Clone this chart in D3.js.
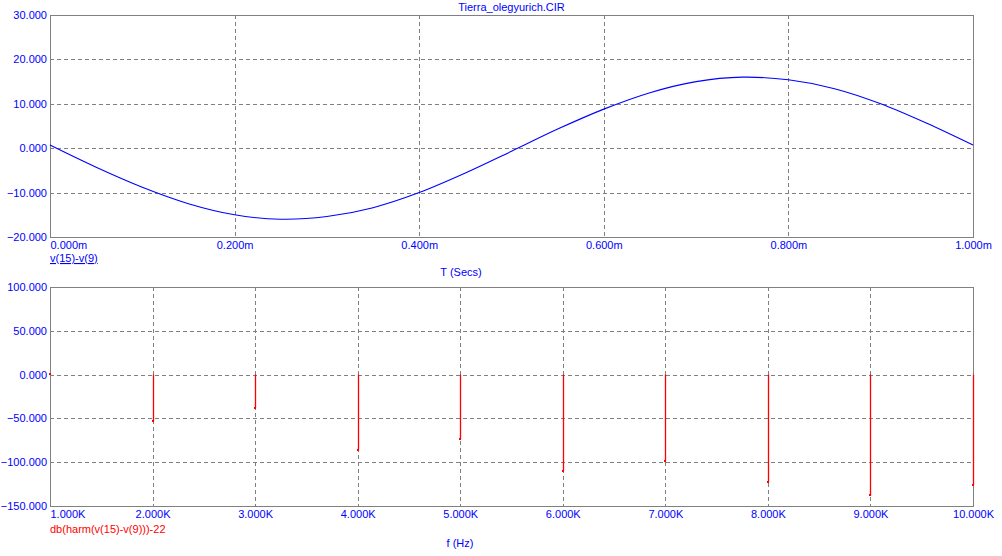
<!DOCTYPE html>
<html>
<head>
<meta charset="utf-8">
<script src="https://cdn.jsdelivr.net/npm/d3@7"></script>
<style>
html,body{margin:0;padding:0;background:#fff;}
svg{display:block;}
text{font-family:"Liberation Sans",Arial,sans-serif;font-size:11px;}
</style>
</head>
<body>
<svg id="chart" width="1002" height="556"></svg>
<script>
// ---- Data ----
const title = "Tierra_olegyurich.CIR";
const timeMs = [0,0.05,0.10,0.15,0.20,0.25,0.30,0.35,0.40,0.45,0.50,0.55,0.60,0.65,0.70,0.75,0.80,0.85,0.90,0.95,1.00];
const voltage = [0.7,-4.3,-8.8,-12.5,-15.0,-16.0,-15.4,-13.4,-10.0,-5.6,-0.7,4.3,8.8,12.5,15.0,16.0,15.4,13.4,10.0,5.6,0.7];
const freqK = [1,2,3,4,5,6,7,8,9,10];
const harmDb = [0.8,-53.5,-38,-86,-73,-110,-99,-123,-138,-126];
const topXTicks = [0,0.2,0.4,0.6,0.8,1.0];
const topYTicks = [30,20,10,0,-10,-20];
const botXTicks = [1,2,3,4,5,6,7,8,9,10];
const botYTicks = [100,50,0,-50,-100,-150];

// ---- Layout ----
const svg = d3.select("#chart");
const L = 50, R = 973;
const top1 = 15, bot1 = 237;
const top2 = 287, bot2 = 506;
const gray = "#808080", blue = "#0000FF", red = "#FF0000";

const x1 = d3.scaleLinear().domain([0,1]).range([L,R]);
const y1 = d3.scaleLinear().domain([-20,30]).range([bot1,top1]);
const x2 = d3.scaleLinear().domain([1,10]).range([L,R]);
const y2 = d3.scaleLinear().domain([-150,100]).range([bot2,top2]);

const f3 = d3.format(".3f");

function panel(x, y, xTicks, yTicks, xFmt, yT, yB) {
  const g = svg.append("g");
  // grid
  g.append("g").selectAll("line").data(yTicks.slice(1,-1)).join("line")
    .attr("x1",L).attr("x2",R)
    .attr("y1",d=>Math.round(y(d))+0.5).attr("y2",d=>Math.round(y(d))+0.5)
    .attr("stroke",gray).attr("stroke-dasharray","4,3").attr("shape-rendering","crispEdges");
  g.append("g").selectAll("line").data(xTicks.slice(1,-1)).join("line")
    .attr("y1",yT).attr("y2",yB)
    .attr("x1",d=>Math.round(x(d))+0.5).attr("x2",d=>Math.round(x(d))+0.5)
    .attr("stroke",gray).attr("stroke-dasharray","4,3").attr("shape-rendering","crispEdges");
  // frame
  g.append("rect").attr("x",L+0.5).attr("y",yT+0.5).attr("width",R-L).attr("height",yB-yT)
    .attr("fill","none").attr("stroke",gray).attr("shape-rendering","crispEdges");
  // y axis labels
  const ya = g.append("g").attr("transform",`translate(${L},0)`)
    .call(d3.axisLeft(y).tickValues(yTicks).tickSize(0).tickPadding(3).tickFormat(f3));
  ya.select(".domain").remove();
  ya.selectAll("text").attr("fill",blue).style("font-size","11px").attr("font-family","Liberation Sans, Arial, sans-serif");
  // x axis labels
  const xa = g.append("g").attr("transform",`translate(0,${yB})`)
    .call(d3.axisBottom(x).tickValues(xTicks).tickSize(0).tickPadding(4).tickFormat(xFmt));
  xa.select(".domain").remove();
  xa.selectAll("text").attr("fill",blue).style("font-size","11px").attr("font-family","Liberation Sans, Arial, sans-serif")
    .attr("text-anchor",(d,i)=> i===0 ? "start" : "middle");
  return g;
}

panel(x1, y1, topXTicks, topYTicks, d=>f3(d)+"m", top1, bot1);
panel(x2, y2, botXTicks, botYTicks, d=>f3(d)+"K", top2, bot2);

// title
svg.append("text").attr("x",(L+R)/2).attr("y",11).attr("text-anchor","middle").attr("fill",blue).text(title);

// top curve
const pts = timeMs.map((t,i)=>[t,voltage[i]]);
svg.append("path").datum(pts)
  .attr("fill","none").attr("stroke",blue).attr("stroke-width",1.1)
  .attr("d", d3.line().x(d=>x1(d[0])).y(d=>y1(d[1])).curve(d3.curveCardinal.tension(0)));

// legends/axis titles top
svg.append("text").attr("x",L).attr("y",262).attr("fill",blue).text("v(15)-v(9)")
  .attr("text-decoration","underline");
svg.append("text").attr("x",461).attr("y",276).attr("text-anchor","middle").attr("fill",blue).text("T (Secs)");

// harmonics bars
const bars = svg.append("g");
bars.selectAll("line").data(freqK).join("line")
  .attr("x1",d=>Math.round(x2(d))+0.5).attr("x2",d=>Math.round(x2(d))+0.5)
  .attr("y1",y2(0)).attr("y2",(d,i)=>y2(harmDb[i]))
  .attr("stroke",red).attr("stroke-width",1.3);
bars.selectAll("rect").data(freqK).join("rect")
  .attr("x",d=>Math.round(x2(d))-1).attr("y",(d,i)=>Math.round(y2(harmDb[i]))-1)
  .attr("width",2).attr("height",2).attr("fill",red);

svg.append("text").attr("x",L).attr("y",533).attr("fill",red).text("db(harm(v(15)-v(9)))-22");
svg.append("text").attr("x",460).attr("y",547).attr("text-anchor","middle").attr("fill",blue).text("f (Hz)");
</script>
</body>
</html>
